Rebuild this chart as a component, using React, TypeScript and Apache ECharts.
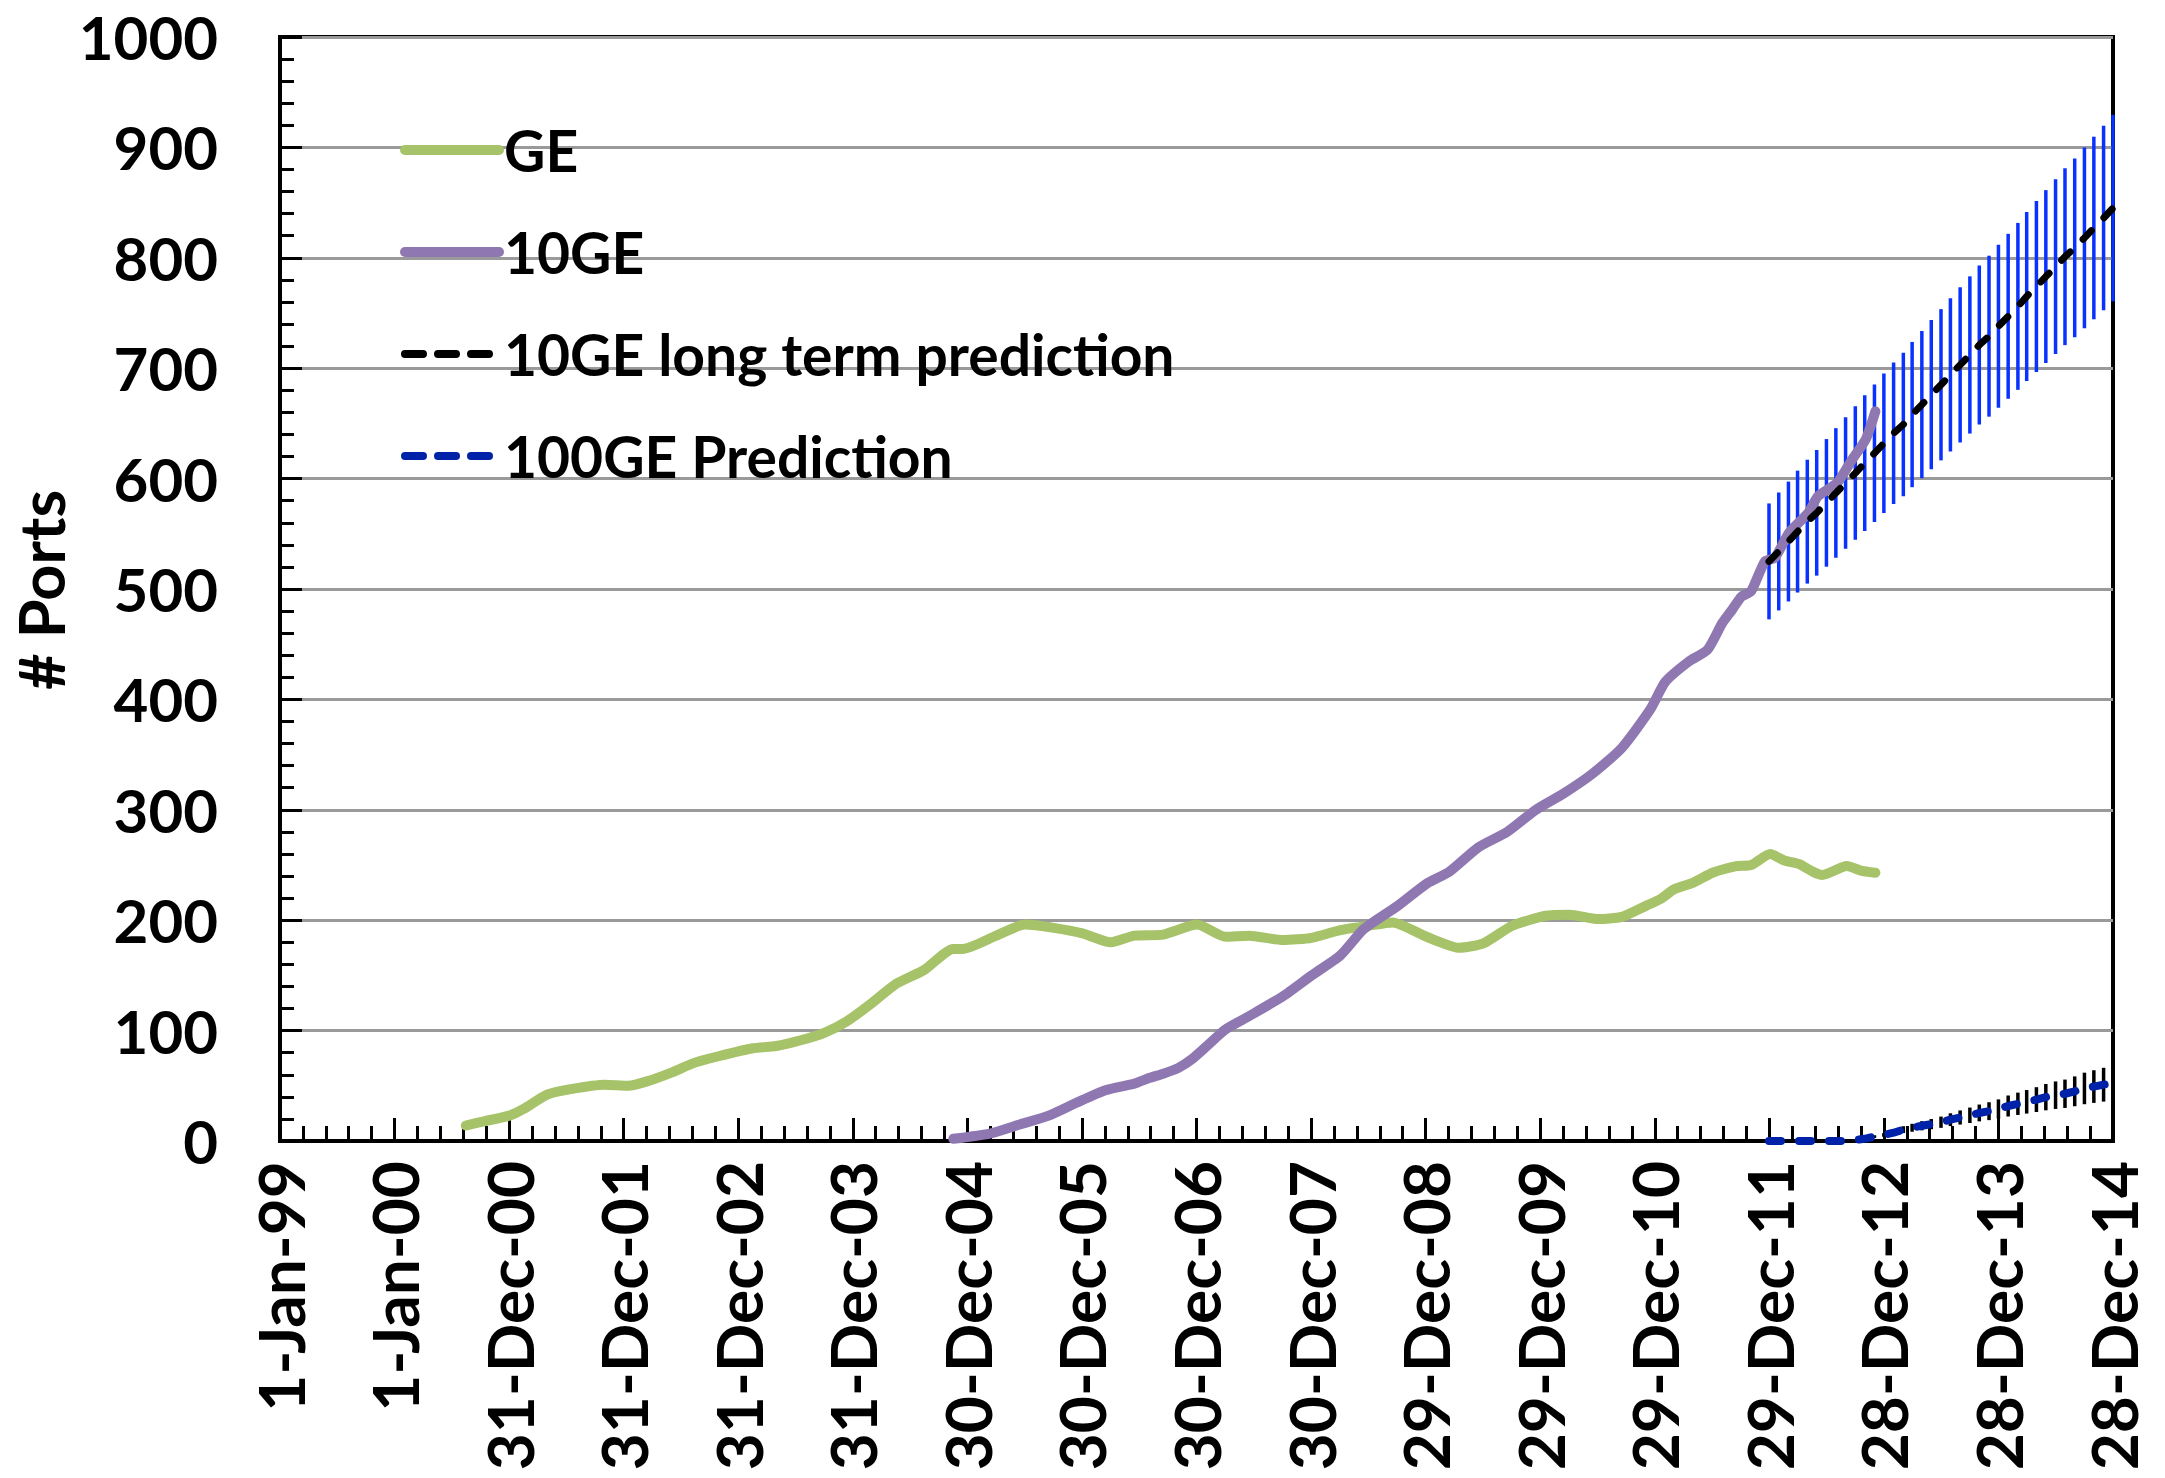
import React, { useEffect, useRef } from 'react';
import * as echarts from 'echarts';

// ---------- data ----------
const X_TICK_LABELS = [
  '1-Jan-99', '1-Jan-00', '31-Dec-00', '31-Dec-01', '31-Dec-02', '31-Dec-03',
  '30-Dec-04', '30-Dec-05', '30-Dec-06', '30-Dec-07', '29-Dec-08', '29-Dec-09',
  '29-Dec-10', '29-Dec-11', '28-Dec-12', '28-Dec-13', '28-Dec-14',
];
const X_STEP_DAYS = 365;
const Y_MIN = 0;
const Y_MAX = 1000;
const Y_STEP = 100;

const GE_DATA: [string, number][] = [
  ['2000-08-15', 14], ['2000-10-15', 18], ['2001-01-01', 23], ['2001-02-15', 29],
  ['2001-05-01', 42], ['2001-07-15', 47], ['2001-11-01', 51], ['2002-01-15', 50],
  ['2002-03-15', 54], ['2002-06-01', 62], ['2002-08-15', 71], ['2002-11-01', 77],
  ['2003-02-15', 84], ['2003-05-01', 86], ['2003-07-15', 91], ['2003-10-01', 98],
  ['2003-12-15', 109], ['2004-03-01', 125], ['2004-05-15', 142], ['2004-08-15', 155],
  ['2004-11-15', 174], ['2004-12-15', 174], ['2005-04-01', 186], ['2005-07-01', 196],
  ['2005-10-01', 193], ['2006-01-01', 188], ['2006-04-01', 180], ['2006-06-15', 186],
  ['2006-09-15', 187], ['2007-01-01', 196], ['2007-04-01', 185], ['2007-06-15', 186],
  ['2007-10-01', 182], ['2008-01-01', 184], ['2008-04-01', 191], ['2008-07-01', 195],
  ['2008-09-15', 198], ['2009-01-01', 185], ['2009-04-15', 175], ['2009-07-01', 179],
  ['2009-10-01', 195], ['2010-01-15', 204], ['2010-04-01', 205], ['2010-07-01', 201],
  ['2010-09-15', 203], ['2010-12-01', 213], ['2011-01-15', 219], ['2011-03-01', 228],
  ['2011-05-01', 234], ['2011-07-01', 243], ['2011-09-15', 249], ['2011-11-01', 250],
  ['2012-01-01', 260], ['2012-02-15', 254], ['2012-04-01', 251], ['2012-05-15', 244],
  ['2012-06-15', 241], ['2012-09-01', 249], ['2012-10-15', 245], ['2012-12-01', 243],
];

const TEN_GE_DATA: [string, number][] = [
  ['2004-11-15', 2], ['2005-03-15', 7], ['2005-06-15', 15], ['2005-09-15', 23],
  ['2005-12-15', 35], ['2006-03-15', 46], ['2006-06-15', 52], ['2006-08-01', 57],
  ['2006-09-15', 61], ['2006-11-01', 66], ['2006-12-15', 74], ['2007-02-01', 86],
  ['2007-04-01', 101], ['2007-06-15', 113], ['2007-10-01', 131], ['2008-01-01', 150],
  ['2008-04-01', 168], ['2008-06-15', 192], ['2008-10-01', 213], ['2009-01-01', 233],
  ['2009-03-15', 244], ['2009-06-15', 266], ['2009-09-15', 280], ['2009-12-15', 300],
  ['2010-03-15', 315], ['2010-06-15', 333], ['2010-09-15', 356], ['2010-12-15', 391],
  ['2011-02-01', 416], ['2011-04-15', 434], ['2011-06-15', 445], ['2011-08-01', 469],
  ['2011-09-01', 481], ['2011-10-01', 493], ['2011-11-01', 498], ['2011-12-15', 525],
  ['2012-01-15', 528], ['2012-03-01', 551], ['2012-05-01', 569], ['2012-06-01', 584],
  ['2012-08-01', 596], ['2012-09-15', 616], ['2012-11-01', 636], ['2012-12-01', 661],
];

// monthly predictions, Dec 2011 .. Dec 2014
const PRED_START = { year: 2011, month: 11, day: 28 };
const PRED_10GE: number[] = [
  525, 534, 543, 552, 561, 569, 578, 587, 596, 605, 614, 623, 632,
  641, 649, 658, 667, 676, 685, 694, 703, 712, 721, 729, 738,
  747, 756, 765, 774, 783, 792, 801, 809, 818, 827, 836, 845,
];
const PRED_100GE: number[] = [
  0, 0, 0, 0, 0, 0, 0, 0, 0, 1, 2, 4, 5.5,
  7.5, 10.3, 12, 13.8, 15.3, 17, 19.3, 21.3, 23.3, 25.4, 27, 29,
  31.7, 33.7, 35.5, 37.5, 39.7, 41.5, 42.8, 45, 47.6, 49.3, 51, 53,
];
const PRED_10GE_ERR_PCT = 0.1;
const PRED_100GE_ERR_PCT = 0.3;

// ---------- helpers ----------
const DAY0 = Date.UTC(1999, 0, 1);
const MS_DAY = 86400000;
const toDay = (iso: string) => (Date.parse(iso) - DAY0) / MS_DAY;
const predDay = (i: number) =>
  (Date.UTC(PRED_START.year, PRED_START.month + i, PRED_START.day) - DAY0) / MS_DAY;

const FONT = 'Lato';
const GREEN = '#a7c36a';
const PURPLE = '#8f78b1';
const DARK_BLUE = '#0022a8';

export default function App() {
  const ref = useRef<HTMLDivElement>(null);

  useEffect(() => {
    if (!ref.current) return;
    const chart = echarts.init(ref.current, undefined, { renderer: 'svg' });

    const geSeries = GE_DATA.map(([d, v]) => [toDay(d), v]);
    const tenSeries = TEN_GE_DATA.map(([d, v]) => [toDay(d), v]);
    const pred10 = PRED_10GE.map((v, i) => [predDay(i), v]);
    const pred100 = PRED_100GE.map((v, i) => [predDay(i), v]);
    const err10 = PRED_10GE.map((v, i) => [predDay(i), v * (1 - PRED_10GE_ERR_PCT), v * (1 + PRED_10GE_ERR_PCT)]);
    const err100 = PRED_100GE.map((v, i) => [predDay(i), v * (1 - PRED_100GE_ERR_PCT), v * (1 + PRED_100GE_ERR_PCT)]);

    const errRender = (color: string) => (params: any, api: any) => {
      const p1 = api.coord([api.value(0), api.value(1)]);
      const p2 = api.coord([api.value(0), api.value(2)]);
      return {
        type: 'line',
        shape: { x1: p1[0], y1: p1[1], x2: p2[0], y2: p2[1] },
        style: { stroke: color, lineWidth: 3.5 },
      };
    };

    const xMax = X_STEP_DAYS * (X_TICK_LABELS.length - 1);

    chart.setOption({
      animation: false,
      backgroundColor: '#ffffff',
      grid: {
        left: 280, right: 52, top: 37, bottom: 337,
        show: true, borderColor: '#000', borderWidth: 4, backgroundColor: 'transparent',
      },
      legend: {
        orient: 'vertical',
        left: 400,
        top: 120,
        padding: 0,
        itemWidth: 94,
        itemHeight: 2,
        itemGap: 42,
        textStyle: { fontFamily: FONT, fontWeight: 'bold', fontSize: 57, color: '#000', lineHeight: 60 },
        data: [
          { name: 'GE', lineStyle: { width: 10, cap: 'round' } },
          { name: '10GE', lineStyle: { width: 10, cap: 'round' } },
          { name: '10GE long term prediction', lineStyle: { type: [18, 15], width: 8, cap: 'round' } },
          { name: '100GE Prediction', lineStyle: { type: [18, 15], width: 8, cap: 'round' } },
        ],
      },
      xAxis: {
        type: 'value',
        min: 0,
        max: xMax,
        interval: X_STEP_DAYS,
        axisLine: { show: true, lineStyle: { color: '#000', width: 4 } },
        axisTick: { show: true, inside: true, length: 23, lineStyle: { color: '#000', width: 3 } },
        minorTick: { show: true, splitNumber: 5, length: 15, lineStyle: { color: '#000', width: 3 } },
        splitLine: { show: false },
        axisLabel: {
          rotate: 90,
          margin: 20,
          fontFamily: FONT,
          fontWeight: 'bold',
          fontSize: 64,
          color: '#000',
          formatter: (v: number) => X_TICK_LABELS[Math.round(v / X_STEP_DAYS)] ?? '',
        },
      },
      yAxis: {
        type: 'value',
        min: Y_MIN,
        max: Y_MAX,
        interval: Y_STEP,
        axisLine: { show: true, lineStyle: { color: '#000', width: 4 } },
        axisTick: { show: true, inside: true, length: 22, lineStyle: { color: '#000', width: 3 } },
        minorTick: { show: true, splitNumber: 5, length: 14, lineStyle: { color: '#000', width: 3 } },
        splitLine: { show: true, lineStyle: { color: '#9a9a9a', width: 3 } },
        axisLabel: {
          margin: 62,
          fontFamily: FONT,
          fontWeight: 'bold',
          fontSize: 60,
          color: '#000',
          formatter: (v: number) => String(v),
        },
      },
      graphic: [
        {
          type: 'text',
          x: 40,
          y: 590,
          rotation: Math.PI / 2,
          style: {
            text: '# Ports',
            font: `bold 63px ${FONT}`,
            fill: '#000',
            align: 'center',
            verticalAlign: 'middle',
          },
        },
      ],
      series: [
        {
          type: 'custom',
          name: 'err10',
          renderItem: errRender('#0a32ff'),
          data: err10,
          encode: { x: 0, y: [1, 2] },
          z: 1,
          clip: false,
          silent: true,
        },
        {
          type: 'custom',
          name: 'err100',
          renderItem: errRender('#000000'),
          data: err100,
          encode: { x: 0, y: [1, 2] },
          z: 1,
          clip: false,
          silent: true,
        },
        {
          name: 'GE',
          type: 'line',
          data: geSeries,
          symbol: 'none',
          smooth: 0.2,
          color: GREEN,
          lineStyle: { color: GREEN, width: 10, cap: 'round', join: 'round' },
          z: 3,
        },
        {
          name: '10GE',
          type: 'line',
          data: tenSeries,
          symbol: 'none',
          smooth: 0.2,
          color: PURPLE,
          lineStyle: { color: PURPLE, width: 10, cap: 'round', join: 'round' },
          z: 4,
        },
        {
          name: '10GE long term prediction',
          type: 'line',
          data: pred10,
          symbol: 'none',
          color: '#000000',
          lineStyle: { color: '#000000', width: 7, type: [12, 18], cap: 'round' },
          z: 5,
        },
        {
          name: '100GE Prediction',
          type: 'line',
          data: pred100,
          symbol: 'none',
          color: DARK_BLUE,
          lineStyle: { color: DARK_BLUE, width: 8, type: [12, 18], cap: 'round' },
          z: 5,
        },
      ],
    });

    return () => chart.dispose();
  }, []);

  return (
    <div
      ref={ref}
      style={{ position: 'fixed', left: 0, top: 0, width: 2165, height: 1478, background: '#fff' }}
    />
  );
}
